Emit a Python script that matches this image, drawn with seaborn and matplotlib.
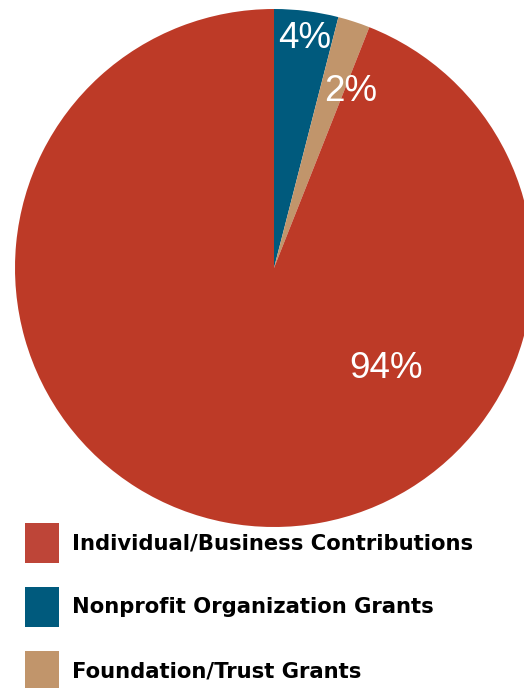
import matplotlib
matplotlib.use("Agg")
import matplotlib.pyplot as plt
import seaborn as sns
import numpy as np
from matplotlib.patches import Patch

sns.set_theme(style="white")

categories = ["Nonprofit Organization Grants", "Foundation/Trust Grants", "Individual/Business Contributions"]
values = [4, 2, 94]
labels_pct = ["4%", "2%", "94%"]
colors = ["#005A7D", "#C1956B", "#BD3A27"]

legend_order = ["Individual/Business Contributions", "Nonprofit Organization Grants", "Foundation/Trust Grants"]
legend_colors = ["#BE4538", "#005A7D", "#C1956B"]

W, H = 524, 688
fig = plt.figure(figsize=(W / 100, H / 100), dpi=100)
ax = fig.add_axes([0, 0, 1, 1])
cx, cy, r = 274, H - 268, 259
wedges, _ = ax.pie(values, colors=colors, startangle=90, counterclock=False,
                   center=(cx, cy), radius=r, wedgeprops=dict(linewidth=0))
ax.set_xlim(0, W)
ax.set_ylim(0, H)
ax.set_aspect("equal")
ax.axis("off")

# label positions as (fraction of radius, angle in degrees)
label_pos = [(0.895, 82.5), (0.745, 66.5), (0.58, -42.0)]
for txt, (d, ang) in zip(labels_pct, label_pos):
    a = np.deg2rad(ang)
    ax.text(cx + d * r * np.cos(a), cy + d * r * np.sin(a), txt, color="white",
            ha="center", va="center", fontsize=26.5, family="Liberation Sans")

handles = [Patch(facecolor=c, edgecolor="none") for c in legend_colors]
fs = 15.2
em = fs * 100 / 72
hh = (40 / em - 0.245) / 0.65
leg = fig.legend(handles, legend_order, loc="upper left", bbox_to_anchor=(25 / W, 1 - 523 / H),
                 frameon=False, borderaxespad=0, borderpad=0,
                 prop=dict(family="DejaVu Sans", weight="bold", size=fs),
                 handlelength=34 / em, handleheight=hh,
                 handletextpad=13 / em, labelspacing=24 / em)
for t in leg.get_texts():
    t.set_color("black")

fig.savefig("out.png", dpi=100)
